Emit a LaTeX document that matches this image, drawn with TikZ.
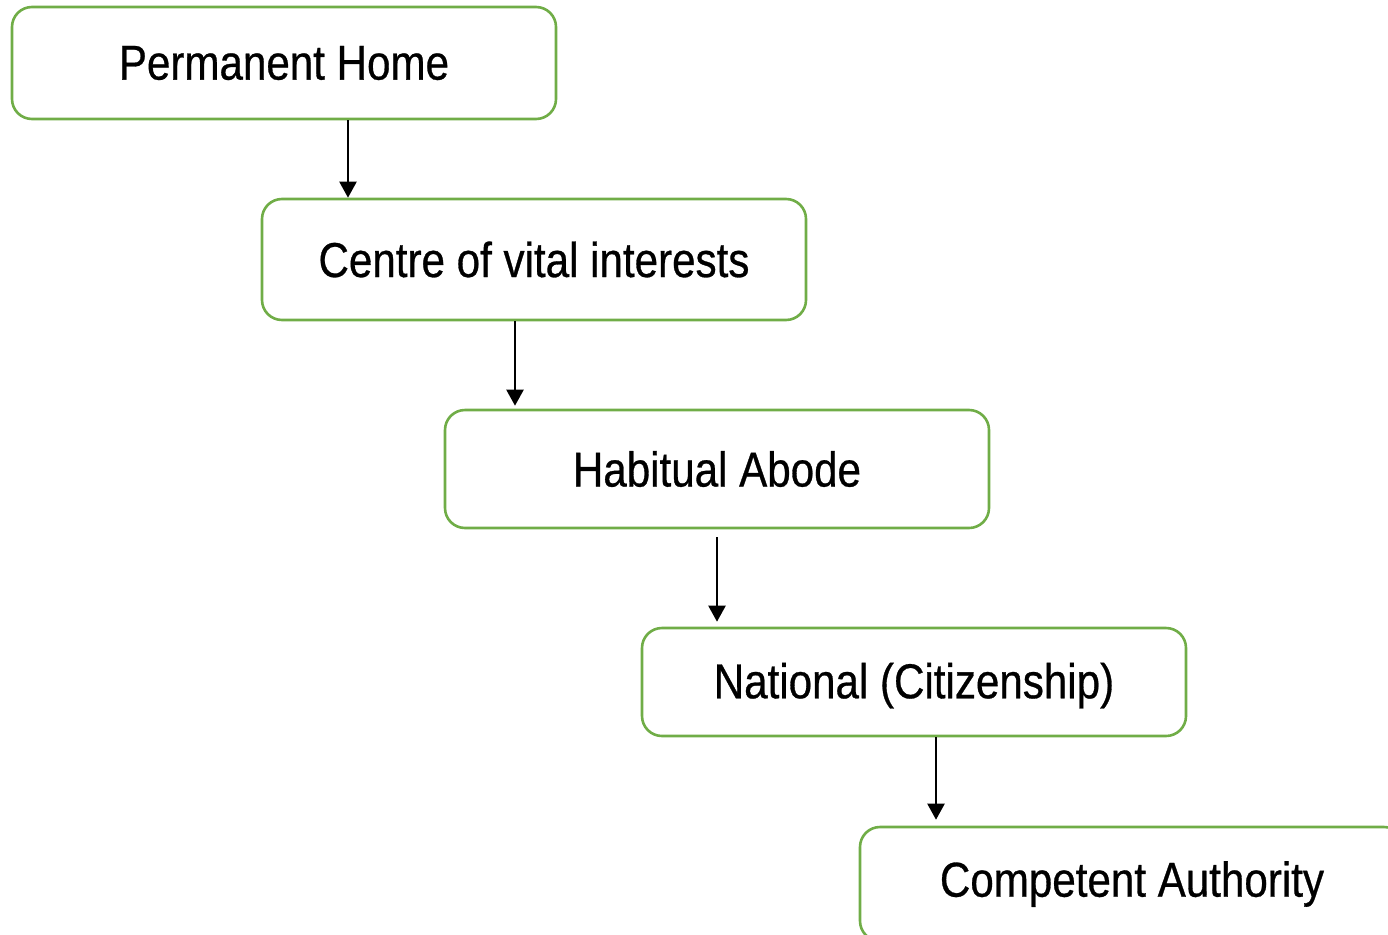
\documentclass[tikz,border=0pt]{standalone}
\usepackage{fontspec}
\setmainfont[FakeStretch=0.86,FakeBold=0.6]{Liberation Sans}
\usetikzlibrary{arrows.meta}
\begin{document}
\begin{tikzpicture}[x=1pt,y=-1pt,
  box/.style={draw=boxgreen, line width=2.6pt, rounded corners=20pt, minimum width=544pt, inner sep=0pt, font=\fontsize{49}{56}\selectfont},
  arr/.style={line width=2.2pt, -{Triangle[width=17pt,length=16pt]}}]
\definecolor{boxgreen}{HTML}{70AD47}
\clip (0,0) rectangle (1388,934);
\useasboundingbox (0,0) rectangle (1388,934);
\node[box, minimum height=112pt] (b1) at (284,63) {Permanent Home};
\node[box, minimum height=121pt] (b2) at (534,259.5) {Centre of vital interests};
\node[box, minimum height=118pt] (b3) at (717,469) {Habitual Abode};
\node[box, minimum height=108pt, text depth=3pt] (b4) at (914,682) {National (Citizenship)};
\node[box, minimum height=114pt] (b5) at (1132,884) {Competent Authority};
\coordinate (a1) at (348,0);
\coordinate (a2) at (515,0);
\coordinate (a3) at (717,537);
\coordinate (a4) at (936,0);
\draw[arr] (b1.south -| a1) -- (b2.north -| a1);
\draw[arr, shorten >=3pt] (b2.south -| a2) -- (b3.north -| a2);
\draw[arr, shorten >=5pt] (a3) -- (b4.north -| a3);
\draw[arr, shorten >=6pt] (b4.south -| a4) -- (b5.north -| a4);
\end{tikzpicture}
\end{document}
